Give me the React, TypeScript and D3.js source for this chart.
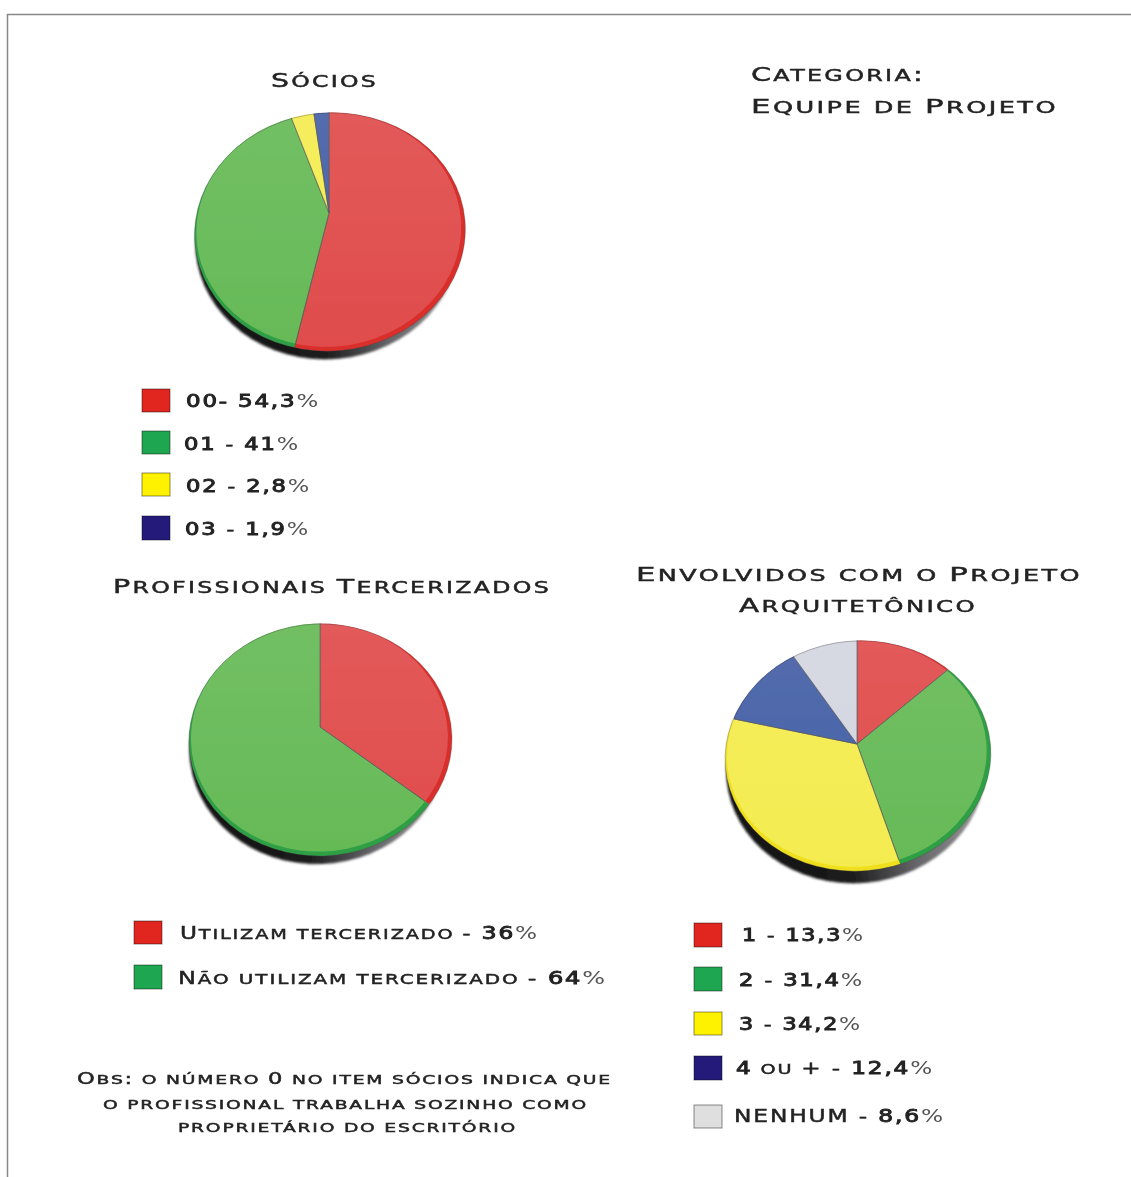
import React from "react";
import * as d3 from "d3";

// Slice shares as measured on the drawn pies (the drawing is not exact to the legend)
const sociosShares = [54.0, 40.0, 3.6, 2.4];
const tercerizadosShares = [34.8, 65.2];
const envolvidosShares = [14.1, 30.4, 33.7, 11.8, 10.0];

const sociosLabels = ["00- 54,3", "01 - 41", "02 - 2,8", "03 - 1,9"];
const tercerizadosLabels = ["Utilizam tercerizado - 36", "Não utilizam tercerizado - 64"];
const envolvidosLabels = ["1 - 13,3", "2 - 31,4", "3 - 34,2", "4 ou + - 12,4", "NENHUM - 8,6"];

const sociosSlices = ["red", "green", "yellow", "blue"];
const tercerizadosSlices = ["red", "green"];
const envolvidosSlices = ["red", "green", "yellow", "blue", "gray"];

const obsLines = [
  "Obs: o número 0 no item sócios indica que",
  "o profissional trabalha sozinho como",
  "proprietário do escritório",
];

const FONT = "'DejaVu Sans', sans-serif";

const faceColor: Record<string, string> = {
  red: "#e04c4c",
  green: "#66ba57",
  yellow: "#f4ec50",
  blue: "#4560a6",
  gray: "#d3d6e0",
};
const rimColor: Record<string, string> = {
  red: "#d92f2c",
  green: "#2f9f45",
  yellow: "#efdf1e",
  blue: "#2b3f90",
  gray: "#a9acb8",
};
const swatchColor: Record<string, string> = {
  red: "#e0261f",
  green: "#1fa650",
  yellow: "#fff200",
  blue: "#241a7a",
  gray: "#dfdfdf",
};

interface PieConfig {
  id: string;
  shares: number[];
  slices: string[];
  apexX: number;
  apexY: number;
  cx: number;
  cy: number;
  rx: number;
  ry: number;
  tilt: number;
  depth: number;
}

const pies: PieConfig[] = [
  { id: "socios", shares: sociosShares, slices: sociosSlices, apexX: 329, apexY: 213, cx: 330, cy: 232, rx: 135.5, ry: 119, tilt: -5, depth: 8 },
  { id: "terc", shares: tercerizadosShares, slices: tercerizadosSlices, apexX: 320, apexY: 727, cx: 320.5, cy: 740, rx: 131.5, ry: 116, tilt: -2, depth: 8 },
  { id: "envol", shares: envolvidosShares, slices: envolvidosSlices, apexX: 857, apexY: 744, cx: 858, cy: 756, rx: 133, ry: 115, tilt: -5, depth: 12 },
];

function Pie({ cfg }: { cfg: PieConfig }) {
  const arcs = d3.pie<number>().sort(null)(cfg.shares);
  const wedge = d3.arc<d3.PieArcDatum<number>>().innerRadius(0).outerRadius(400);
  const rot = `rotate(${cfg.tilt} ${cfg.cx} ${cfg.cy})`;

  const wedges = (palette: Record<string, string>, stroke: boolean) =>
    arcs.map((a, i) => (
      <path
        key={i}
        d={wedge(a) as string}
        transform={`translate(${cfg.apexX},${cfg.apexY})`}
        fill={palette[cfg.slices[i]]}
        stroke={stroke ? "#55555a" : "none"}
        strokeWidth={stroke ? 0.7 : 0}
      />
    ));

  return (
    <g filter="url(#soft)">
      <defs>
        <clipPath id={`${cfg.id}-rim`}>
          <ellipse cx={cfg.cx} cy={cfg.cy} rx={cfg.rx} ry={cfg.ry} transform={rot} />
        </clipPath>
        <clipPath id={`${cfg.id}-face`}>
          <ellipse cx={cfg.cx - 1} cy={cfg.cy - 2.5} rx={cfg.rx - 3} ry={cfg.ry - 2} transform={rot} />
        </clipPath>
      </defs>
      {/* thickness under the disc */}
      <ellipse
        cx={cfg.cx - 3}
        cy={cfg.cy + cfg.depth}
        rx={cfg.rx - 3}
        ry={cfg.ry}
        transform={rot}
        fill="url(#side)"
        filter="url(#softer)"
      />
      <g clipPath={`url(#${cfg.id}-rim)`}>{wedges(rimColor, false)}</g>
      <g clipPath={`url(#${cfg.id}-face)`}>
        {wedges(faceColor, true)}
        <ellipse cx={cfg.cx} cy={cfg.cy} rx={cfg.rx} ry={cfg.ry} fill="url(#gloss)" />
      </g>
      <ellipse
        cx={cfg.cx}
        cy={cfg.cy}
        rx={cfg.rx}
        ry={cfg.ry}
        transform={rot}
        fill="none"
        stroke="#444"
        strokeOpacity={0.4}
        strokeWidth={0.8}
      />
    </g>
  );
}

// capitals stay big, lowercase letters become smaller capitals; figures can be set heavier
function runs(text: string, size: number, boldDigits: boolean) {
  const parts = text.match(/[a-zà-ÿ\s]+|[^a-zà-ÿ\s]+|\s+/g) || [];
  return parts.map((part, i) => {
    const isSmall = /[a-zà-ÿ]/.test(part);
    const isFigure = boldDigits && /[0-9]/.test(part);
    return (
      <tspan key={i} fontSize={isSmall ? size * 0.83 : size} strokeWidth={isFigure ? 0.9 : 0.45}>
        {part.toUpperCase()}
      </tspan>
    );
  });
}

function Label({
  x,
  end,
  y,
  size,
  text,
  pct = false,
}: {
  x: number;
  end: number;
  y: number;
  size: number;
  text: string;
  pct?: boolean;
}) {
  return (
    <text
      x={x}
      y={y}
      fontFamily={FONT}
      fontSize={size}
      fill="#222"
      stroke="#222"
      letterSpacing={size * 0.08}
      textLength={end - x}
      lengthAdjust="spacingAndGlyphs"
      filter="url(#ink)"
      xmlSpace="preserve"
    >
      {runs(text, size, pct)}
      {pct && (
        <tspan fontWeight={400} fill="#555" stroke="none">
          %
        </tspan>
      )}
    </text>
  );
}

interface LegendRow {
  boxX: number;
  boxY: number;
  boxH: number;
  x: number;
  end: number;
  y: number;
}

const boxW = 28;

const sociosLegend: LegendRow[] = [
  { boxX: 142, boxY: 389, boxH: 23, x: 186, end: 320, y: 407 },
  { boxX: 142, boxY: 431, boxH: 23, x: 184, end: 300, y: 450 },
  { boxX: 142, boxY: 473, boxH: 23, x: 186, end: 311, y: 492 },
  { boxX: 142, boxY: 516, boxH: 24, x: 185, end: 310, y: 535 },
];
const tercerizadosLegend: LegendRow[] = [
  { boxX: 134, boxY: 921, boxH: 23, x: 180, end: 539, y: 939 },
  { boxX: 134, boxY: 965, boxH: 24, x: 178, end: 607, y: 984 },
];
const envolvidosLegend: LegendRow[] = [
  { boxX: 694, boxY: 923, boxH: 24, x: 742, end: 865, y: 941 },
  { boxX: 694, boxY: 967, boxH: 24, x: 739, end: 864, y: 986 },
  { boxX: 694, boxY: 1012, boxH: 23, x: 739, end: 862, y: 1030 },
  { boxX: 694, boxY: 1056, boxH: 24, x: 736, end: 934, y: 1074 },
  { boxX: 694, boxY: 1105, boxH: 23, x: 734, end: 945, y: 1122 },
];

function Legend({ rows, labels, slices, size }: { rows: LegendRow[]; labels: string[]; slices: string[]; size: number }) {
  return (
    <g>
      {rows.map((r, i) => (
        <g key={i}>
          <rect
            x={r.boxX}
            y={r.boxY}
            width={boxW}
            height={r.boxH}
            fill={swatchColor[slices[i]]}
            stroke="#000"
            strokeOpacity={0.45}
            strokeWidth={1}
          />
          <Label x={r.x} end={r.end} y={r.y} size={size} text={labels[i]} pct />
        </g>
      ))}
    </g>
  );
}

const obsLayout = [
  { x: 77, end: 612, y: 1084 },
  { x: 103, end: 588, y: 1109 },
  { x: 178, end: 517, y: 1132 },
];

export default function App() {
  return (
    <svg
      width={1131}
      height={1177}
      viewBox="0 0 1131 1177"
      style={{ position: "absolute", left: 0, top: 0, background: "#fff" }}
    >
      <defs>
        <filter id="soft" x="-5%" y="-5%" width="110%" height="110%">
          <feGaussianBlur stdDeviation="0.7" />
        </filter>
        <filter id="softer" x="-5%" y="-5%" width="110%" height="110%">
          <feGaussianBlur stdDeviation="1.2" />
        </filter>
        <filter id="ink" x="-2%" y="-20%" width="104%" height="140%">
          <feGaussianBlur stdDeviation="0.35" />
        </filter>
        <linearGradient id="side" x1="0" x2="1" y1="0" y2="0">
          <stop offset="0" stopColor="#111" />
          <stop offset="0.45" stopColor="#1c1c1c" />
          <stop offset="0.7" stopColor="#66666a" />
          <stop offset="1" stopColor="#9a9a9a" />
        </linearGradient>
        <linearGradient id="gloss" x1="0" x2="0" y1="0" y2="1">
          <stop offset="0" stopColor="#fff" stopOpacity={0.08} />
          <stop offset="0.6" stopColor="#fff" stopOpacity={0.03} />
          <stop offset="1" stopColor="#fff" stopOpacity={0} />
        </linearGradient>
      </defs>

      <path d="M7.5,1177V14.5H1131" fill="none" stroke="#888" strokeWidth={1.5} />

      {pies.map((p) => (
        <Pie key={p.id} cfg={p} />
      ))}

      <Label x={271} end={378} y={87} size={19} text="Sócios" />
      <Label x={751} end={925} y={81} size={19} text="Categoria:" />
      <Label x={751} end={1058} y={113} size={19} text="Equipe de Projeto" />
      <Label x={113} end={551} y={592.5} size={19} text="Profissionais Tercerizados" />
      <Label x={636} end={1082} y={581} size={19} text="Envolvidos com o Projeto" />
      <Label x={739} end={977} y={612} size={19} text="Arquitetônico" />

      <Legend rows={sociosLegend} labels={sociosLabels} slices={sociosSlices} size={17} />
      <Legend rows={tercerizadosLegend} labels={tercerizadosLabels} slices={tercerizadosSlices} size={17} />
      <Legend rows={envolvidosLegend} labels={envolvidosLabels} slices={envolvidosSlices} size={17} />

      {obsLines.map((line, i) => (
        <Label key={i} x={obsLayout[i].x} end={obsLayout[i].end} y={obsLayout[i].y} size={15} text={line} />
      ))}
    </svg>
  );
}
